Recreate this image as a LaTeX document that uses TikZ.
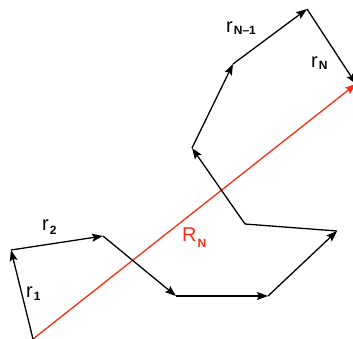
\documentclass[tikz,border=0pt]{standalone}
\usepackage{fontspec}
\setmainfont{Liberation Sans}
\usetikzlibrary{arrows.meta}
\definecolor{vred}{RGB}{250,45,20}
\newcommand{\vlab}[3]{#1\kern1pt\raisebox{-#3}{\fontsize{12}{12}\selectfont\bfseries #2}}
\begin{document}
\begin{tikzpicture}[x=1pt,y=-1pt,
  vec/.style={line width=1.3pt, line join=round, -{Stealth[length=11pt,width=8pt,inset=2pt]}},
  seg/.style={line width=1.3pt, line join=round},
  res/.style={vec, draw=vred, fill=vred},
  lbl/.style={inner sep=0pt, anchor=base west, font=\fontsize{20}{24}\selectfont}]
\useasboundingbox (0,0) rectangle (353,338);
\clip (0,0) rectangle (353,338);
\coordinate (p0) at (33,339);
\coordinate (p1) at (11,250);
\coordinate (p2) at (103,236);
\coordinate (p3) at (176,296);
\coordinate (p4) at (268,296);
\coordinate (p5) at (337,231);
\coordinate (p6) at (245,224);
\coordinate (p7) at (192,148);
\coordinate (p8) at (233,64);
\coordinate (p9) at (307,9);
\coordinate (p10) at (356,84);
\draw[res] (p0) -- (p10);
\draw[vec] (p0) -- (p1);
\draw[vec] (p1) -- (p2);
\draw[vec] (p2) -- (p3);
\draw[vec] (p3) -- (p4);
\draw[vec] (p4) -- (p5);
\draw[seg] (p5) -- (p6);
\draw[vec] (p6) -- (p7);
\draw[vec] (p7) -- (p8);
\draw[vec] (p8) -- (p9);
\draw[vec] (p9) -- (p10);
\node[lbl] (l1) at (26,297) {\vlab{r}{1}{3pt}};
\node[lbl] (l2) at (42,230) {\vlab{r}{2}{4pt}};
\node[lbl] (l3) at (226,32) {\vlab{r}{N–1}{2pt}};
\node[lbl] (l4) at (311,67) {\vlab{r}{N}{2pt}};
\node[lbl, text=vred] (l5) at (182,241) {\vlab{R}{N}{6pt}};
\end{tikzpicture}
\end{document}
